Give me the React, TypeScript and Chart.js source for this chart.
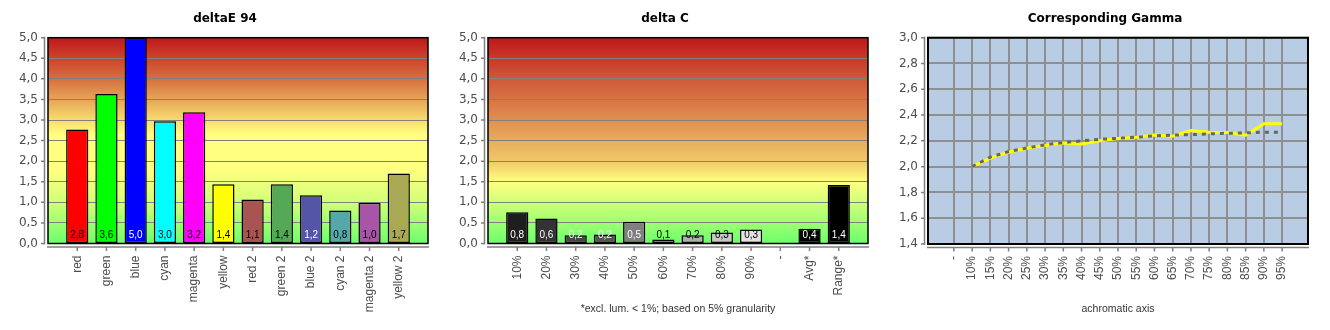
import React, { useEffect, useRef } from 'react';
import { Chart, registerables } from 'chart.js';

Chart.register(...registerables);

// ---------- data ----------
const deltaECategories = ['red', 'green', 'blue', 'cyan', 'magenta', 'yellow', 'red 2', 'green 2', 'blue 2', 'cyan 2', 'magenta 2', 'yellow 2'];
const deltaEValues = [2.77, 3.63, 5.0, 2.97, 3.19, 1.44, 1.07, 1.44, 1.17, 0.8, 0.99, 1.7];

const deltaCCategories = ['10%', '20%', '30%', '40%', '50%', '60%', '70%', '80%', '90%', '-', 'Avg*', 'Range*'];
const deltaCValues = [0.76, 0.61, 0.2, 0.22, 0.53, 0.1, 0.2, 0.27, 0.34, null, 0.36, 1.42];

const deltaTicks = [0, 0.5, 1.0, 1.5, 2.0, 2.5, 3.0, 3.5, 4.0, 4.5, 5.0];

const gammaCategories = ['-', '10%', '15%', '20%', '25%', '30%', '35%', '40%', '45%', '50%', '55%', '60%', '65%', '70%', '75%', '80%', '85%', '90%', '95%'];
const gammaMeasured = [null, 2.0, 2.066, 2.112, 2.143, 2.164, 2.184, 2.176, 2.2, 2.218, 2.228, 2.246, 2.236, 2.28, 2.267, 2.265, 2.244, 2.332, 2.332];
const gammaReference = [null, 2.0, 2.074, 2.117, 2.145, 2.169, 2.186, 2.2, 2.212, 2.22, 2.228, 2.239, 2.244, 2.248, 2.254, 2.259, 2.262, 2.267, 2.267];
const gammaTicks = [1.4, 1.6, 1.8, 2.0, 2.2, 2.4, 2.6, 2.8, 3.0];

const deltaCFootnote = '*excl. lum. < 1%; based on 5% granularity';
const gammaAxisTitle = 'achromatic axis';

// ---------- styles ----------
const deltaEBarColors = ['#ff0000', '#00ff00', '#0000ff', '#00ffff', '#ff00ff', '#ffff00', '#a85450', '#55a855', '#5555a8', '#55a8a8', '#a855a8', '#a8a855'];
const deltaELabelColors = ['#000', '#000', '#fff', '#000', '#000', '#000', '#000', '#000', '#fff', '#000', '#000', '#000'];
const deltaCBarColors = ['#1e1e1e', '#333333', '#454545', '#545454', '#7f7f7f', '#9c9c9c', '#b0b0b0', '#c8c8c8', '#e2e2e2', '#000', '#000', '#000'];
const deltaCLabelColors = ['#fff', '#fff', '#fff', '#fff', '#fff', '#000', '#000', '#000', '#000', '#000', '#fff', '#fff'];

const deltaEGradient: [number, string][] = [
  [0, '#c0181a'], [0.2, '#d67040'], [0.3, '#e6a558'], [0.4, '#f7dc6f'], [0.47, '#ffff80'],
  [0.64, '#ffff80'], [0.8, '#d2ff78'], [1, '#6cff6c'],
];
const deltaCGradient: [number, string][] = [
  [0, '#c0181a'], [0.2, '#d0583a'], [0.4, '#e09050'], [0.6, '#f0c868'], [0.7, '#ffff80'],
  [0.8, '#d0ff78'], [1, '#6cff6c'],
];

const TICK_COLOR = '#4d4d4d';
const AXIS_COLOR = '#808080';
const TITLE_SHIFT = 22;

const fmt = (v: number) => Number(v).toFixed(1).replace('.', ',');

const framePlugin = {
  id: 'frame',
  afterLayout(chart: any) {
    const t = chart.titleBlock;
    if (t) t.left = TITLE_SHIFT;
  },
  beforeDraw(chart: any, _args: any, opts: any) {
    const { ctx, chartArea: a } = chart;
    ctx.save();
    if (opts.stops) {
      const g = ctx.createLinearGradient(0, a.top, 0, a.bottom);
      opts.stops.forEach(([o, c]: [number, string]) => g.addColorStop(o, c));
      ctx.fillStyle = g;
    } else {
      ctx.fillStyle = opts.fill;
    }
    ctx.fillRect(a.left, a.top, a.right - a.left, a.bottom - a.top);
    ctx.restore();
  },
  afterDatasetsDraw(chart: any, _args: any, opts: any) {
    const { ctx, chartArea: a } = chart;
    ctx.save();
    if (opts.labelColors) {
      const meta = chart.getDatasetMeta(0);
      const data = chart.data.datasets[0].data;
      ctx.font = '10px "Liberation Sans"';
      ctx.textAlign = 'center';
      ctx.textBaseline = 'middle';
      meta.data.forEach((bar: any, i: number) => {
        const v = data[i];
        if (v === null || v === undefined) return;
        ctx.fillStyle = opts.labelColors[i] || '#000';
        ctx.fillText(fmt(v), bar.x, a.bottom - 8);
      });
    }
    ctx.strokeStyle = '#000';
    ctx.lineWidth = opts.borderWidth || 1.5;
    ctx.strokeRect(a.left, a.top, a.right - a.left, a.bottom - a.top);
    ctx.restore();
  },
  afterDraw(chart: any) {
    const { ctx, chartArea: a } = chart;
    const xs = chart.scales.x;
    const ys = chart.scales.y;
    ctx.save();
    ctx.strokeStyle = AXIS_COLOR;
    ctx.lineWidth = 1.5;
    const ax = a.left - 3.5;
    const ay = a.bottom + 3.5;
    ctx.beginPath();
    ctx.moveTo(ax, a.top - 1);
    ctx.lineTo(ax, a.bottom + 1);
    ys.ticks.forEach((_t: any, i: number) => {
      const y = ys.getPixelForTick(i);
      ctx.moveTo(ax, y);
      ctx.lineTo(ax - 3.5, y);
    });
    ctx.moveTo(a.left - 1, ay);
    ctx.lineTo(a.right + 1, ay);
    xs.ticks.forEach((t: any, i: number) => {
      if (t.label === '' || t.label === undefined) return;
      const x = xs.getPixelForTick(i);
      ctx.moveTo(x, ay);
      ctx.lineTo(x, ay + 4);
    });
    ctx.stroke();
    ctx.restore();
  },
};

function yScale(ticks: number[], gridColor: string, gridWidth: number) {
  return {
    min: ticks[0],
    max: ticks[ticks.length - 1],
    afterBuildTicks: (s: any) => { s.ticks = ticks.map((v) => ({ value: v })); },
    afterFit: (s: any) => { s.width = 48; s.paddingTop = 0; s.paddingBottom = 0; },
    ticks: {
      autoSkip: false,
      callback: (v: any) => fmt(v),
      color: TICK_COLOR,
      font: { family: 'DejaVu Sans', size: 12 },
      padding: 10,
    },
    grid: { color: gridColor, lineWidth: gridWidth, drawTicks: false },
    border: { display: false },
  };
}

function xTitle(text: string | null) {
  return {
    display: !!text,
    text: text || '',
    color: '#333',
    font: { family: 'Liberation Sans', size: 10.5, lineHeight: 1.2 },
    padding: { top: 0, bottom: 14.7 },
  };
}

const titleOpts = (text: string) => ({
  display: true,
  text,
  color: '#000',
  font: { family: 'DejaVu Sans', size: 12, weight: 'bold' as const, lineHeight: 1.2 },
  padding: { top: 12, bottom: 11.3 },
});

const xTickOpts = {
  autoSkip: false,
  minRotation: 90,
  maxRotation: 90,
  padding: 12,
  color: TICK_COLOR,
  font: { family: 'Liberation Sans', size: 12 },
};

const xFit = (h: number) => (s: any) => {
  s.height = h;
  s.paddingLeft = 0;
  s.paddingRight = 0;
};

function barConfig(title: string, cats: string[], values: (number | null)[], colors: string[], labelColors: string[], stops: [number, string][], footnote: string | null): any {
  return {
    type: 'bar',
    data: {
      labels: ['', ...cats, ''],
      datasets: [{
        data: [null, ...values, null],
        backgroundColor: ['transparent', ...colors, 'transparent'],
        borderColor: '#000',
        borderWidth: 1.5,
        borderSkipped: false,
        categoryPercentage: 1,
        barPercentage: 0.76,
      }],
    },
    options: {
      responsive: false,
      devicePixelRatio: 1,
      animation: false,
      layout: { padding: { left: 0, right: 12, top: 0, bottom: 0 } },
      plugins: {
        legend: { display: false },
        tooltip: { enabled: false },
        title: titleOpts(title),
        frame: { stops, labelColors: ['', ...labelColors, ''], borderWidth: 1.5 },
      },
      scales: {
        x: {
          type: 'category',
          offset: false,
          afterFit: xFit(86.5),
          ticks: xTickOpts,
          grid: { display: false, drawTicks: false },
          border: { display: false },
          title: xTitle(footnote),
        },
        y: yScale(deltaTicks, '#808080', 1),
      },
    },
    plugins: [framePlugin],
  };
}

function gammaConfig(): any {
  const toPts = (arr: (number | null)[]) =>
    arr.map((v, i) => ({ x: i, y: v })).filter((p) => p.y !== null);
  return {
    type: 'line',
    data: {
      datasets: [
        {
          data: toPts(gammaReference),
          borderColor: '#666666',
          borderWidth: 3,
          borderDash: [4, 5],
          pointRadius: 0,
          tension: 0,
        },
        {
          data: toPts(gammaMeasured),
          borderColor: '#ffff00',
          borderWidth: 3,
          pointRadius: 0,
          tension: 0,
        },
      ],
    },
    options: {
      responsive: false,
      devicePixelRatio: 1,
      animation: false,
      layout: { padding: { left: 0, right: 12, top: 0, bottom: 0 } },
      plugins: {
        legend: { display: false },
        tooltip: { enabled: false },
        title: titleOpts('Corresponding Gamma'),
        frame: { fill: '#b8cce4', borderWidth: 2 },
      },
      scales: {
        x: {
          type: 'linear',
          min: -1.42,
          max: gammaCategories.length - 1 + 1.42,
          afterBuildTicks: (s: any) => { s.ticks = gammaCategories.map((_c, i) => ({ value: i })); },
          afterFit: xFit(86),
          ticks: { ...xTickOpts, callback: (v: any) => gammaCategories[v] },
          grid: { color: '#8f8f8f', lineWidth: 2, drawTicks: false },
          border: { display: false },
          title: xTitle(gammaAxisTitle),
        },
        y: yScale(gammaTicks, '#8f8f8f', 2),
      },
    },
    plugins: [framePlugin],
  };
}

function ChartCanvas({ make, left }: { make: () => any; left: number }) {
  const ref = useRef<HTMLCanvasElement>(null);
  useEffect(() => {
    const chart = new Chart(ref.current as HTMLCanvasElement, make());
    return () => chart.destroy();
  }, []);
  return (
    <canvas
      ref={ref}
      width={440}
      height={330}
      style={{ position: 'absolute', left, top: 0, width: 440, height: 330 }}
    />
  );
}

export default function App() {
  return (
    <div style={{ position: 'absolute', left: 0, top: 0, width: 1330, height: 330, background: '#fff' }}>
      <ChartCanvas
        left={0}
        make={() => barConfig('deltaE 94', deltaECategories, deltaEValues, deltaEBarColors, deltaELabelColors, deltaEGradient, null)}
      />
      <ChartCanvas
        left={440}
        make={() => barConfig('delta C', deltaCCategories, deltaCValues, deltaCBarColors, deltaCLabelColors, deltaCGradient, deltaCFootnote)}
      />
      <ChartCanvas left={880} make={gammaConfig} />
    </div>
  );
}
